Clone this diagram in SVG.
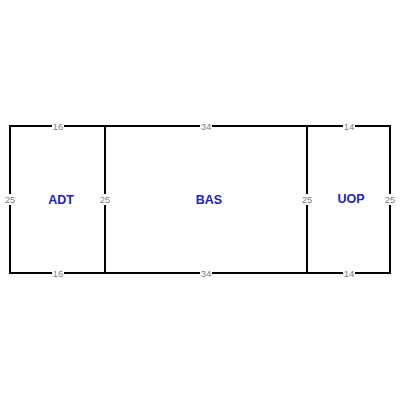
<svg xmlns="http://www.w3.org/2000/svg" width="400" height="400" viewBox="0 0 400 400">
<style>
.w{stroke:#000;stroke-width:2;fill:none;stroke-linecap:square}
.bg{fill:#fff}
.d{font-family:"Liberation Sans",Arial,sans-serif;font-size:9.5px;fill:#808080;text-anchor:middle;dominant-baseline:central}
.n{font-family:"Liberation Sans",Arial,sans-serif;font-size:12.5px;font-weight:bold;fill:#2020cc;text-anchor:middle;dominant-baseline:central}
</style>
<rect width="400" height="400" fill="#fff"/>
<g id="walls">
<path class="w" d="M10 126H390M10 273H390M10 126V273M105 126V273M307 126V273M390 126V273"/>
</g>
<g id="dims">
<rect class="bg" x="52" y="121" width="12" height="10"/><text class="d" x="58" y="126">16</text>
<rect class="bg" x="200" y="121" width="12" height="10"/><text class="d" x="206" y="126">34</text>
<rect class="bg" x="343" y="121" width="12" height="10"/><text class="d" x="349" y="126">14</text>
<rect class="bg" x="52" y="268" width="12" height="10"/><text class="d" x="58" y="273">16</text>
<rect class="bg" x="200" y="268" width="12" height="10"/><text class="d" x="206" y="273">34</text>
<rect class="bg" x="343" y="268" width="12" height="10"/><text class="d" x="349" y="273">14</text>
<rect class="bg" x="4" y="194" width="12" height="11"/><text class="d" x="10" y="199.5">25</text>
<rect class="bg" x="99" y="194" width="12" height="11"/><text class="d" x="105" y="199.5">25</text>
<rect class="bg" x="301" y="194" width="12" height="11"/><text class="d" x="307" y="199.5">25</text>
<rect class="bg" x="384" y="194" width="12" height="11"/><text class="d" x="390" y="199.5">25</text>
</g>
<g id="ADT"><text class="n" x="61" y="200">ADT</text></g>
<g id="BAS"><text class="n" x="209" y="200">BAS</text></g>
<g id="UOP"><text class="n" x="351" y="199">UOP</text></g>
</svg>
